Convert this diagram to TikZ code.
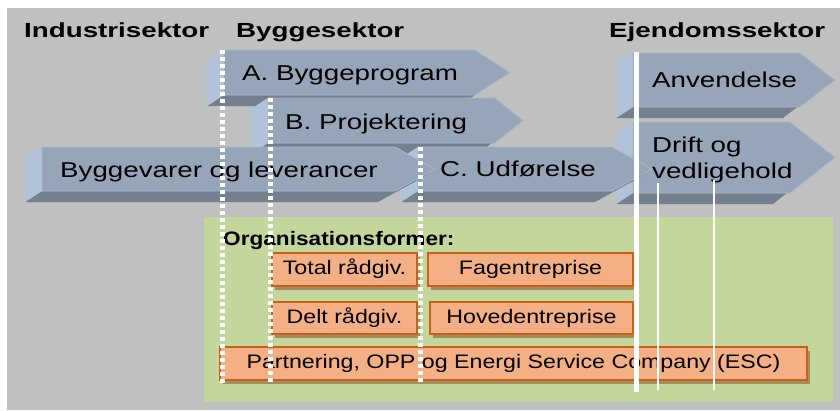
\documentclass[tikz,border=0pt]{standalone}
\usepackage{fontspec}
\setmainfont{Liberation Sans}
\usepackage{graphicx}
\usetikzlibrary{shadows}
\definecolor{bggrey}{HTML}{C0C0C0}
\definecolor{orggreen}{HTML}{C3D69B}
\definecolor{faceblue}{HTML}{97A5B9}
\definecolor{faceedge}{HTML}{A9B7CB}
\definecolor{bevelblue}{HTML}{B2C2D9}
\definecolor{bandgrey}{HTML}{75808E}
\definecolor{boxfill}{HTML}{F4AF84}
\definecolor{boxedge}{HTML}{C8601A}
\definecolor{boxshadow}{HTML}{A58C5E}
\newcommand{\sx}[2]{\scalebox{#1}[1]{#2}}
\newcommand{\blockarrow}[5]{% left, top, bottom, slant, tip
  \pgfmathsetmacro{\bam}{(#2+#3)/2}
  \fill[bandgrey] (#1,#3) -- (#4,#3) -- (#5,\bam) -- ({#5-17},{\bam+11}) -- ({#4-17},{#3+11}) -- ({#1-17},{#3+11}) -- cycle;
  \fill[bevelblue] (#1,#2) -- (#1,#3) -- ({#1-17},{#3+11}) -- ({#1-17},{#2+11}) -- cycle;
  \filldraw[fill=faceblue, draw=faceedge, line width=0.8pt] (#1,#2) -- (#4,#2) -- (#5,\bam) -- (#4,#3) -- (#1,#3) -- cycle;
}
\begin{document}
\begin{tikzpicture}[x=1pt,y=-1pt,
  header/.style={anchor=base west, inner sep=0pt, font=\bfseries\fontsize{20.4}{24}\selectfont},
  arrtxt/.style={anchor=base west, inner sep=0pt, font=\fontsize{21.5}{25}\selectfont},
  orgtitle/.style={anchor=base west, inner sep=0pt, font=\bfseries\fontsize{19.5}{23}\selectfont},
  obox/.style={draw=boxedge, fill=boxfill, line width=1.4pt, inner sep=0pt,
    text height=14pt, text depth=4pt, font=\fontsize{19.5}{23}\selectfont,
    drop shadow={opacity=1, fill=boxshadow, shadow xshift=3pt, shadow yshift=-4pt}},
  dotline/.style={white, line width=5pt, dash pattern=on 4pt off 3pt},
  solidline/.style={white, line width=5pt},
  thinline/.style={white, line width=2pt}]
\useasboundingbox (0,0) rectangle (840,410);
\fill[bggrey] (7,8) rectangle (840,410);
\fill[orggreen] (204,217) rectangle (833,402);

% headers
\node[header] (hind) at (24,37.3) {\sx{1.36}{Industrisektor}};
\node[header] (hbyg) at (236,37.3) {\sx{1.36}{Byggesektor}};
\node[header] (hejd) at (609,37.3) {\sx{1.36}{Ejendomssektor}};

% block arrows
\blockarrow{224}{50}{95}{475}{510}
\blockarrow{268}{98}{143}{495}{523}
\blockarrow{633}{53}{107}{800}{835}
\blockarrow{633}{122}{193}{790}{835}
\blockarrow{418}{147}{191}{612}{652}
\blockarrow{42}{147}{191}{395}{435}

% arrow texts
\node[arrtxt] (ta) at (242,80) {\sx{1.29}{A. Byggeprogram}};
\node[arrtxt] (tb) at (285,129) {\sx{1.29}{B. Projektering}};
\node[arrtxt] (tbv) at (60,177) {\sx{1.29}{Byggevarer og leverancer}};
\node[arrtxt] (tc) at (440,176) {\sx{1.29}{C. Udførelse}};
\node[arrtxt] (tanv) at (652,87) {\sx{1.29}{Anvendelse}};
\node[arrtxt] (tdr1) at (652,152) {\sx{1.29}{Drift og}};
\node[arrtxt] (tdr2) at (652,178) {\sx{1.29}{vedligehold}};

% organisation forms
\node[orgtitle] (org) at (223,245) {\sx{1.16}{Organisationsformer:}};
\node[obox, minimum width=145pt, minimum height=33pt] (total) at (344.5,269.5) {\sx{1.19}{Total rådgiv.}};
\node[obox, minimum width=205pt, minimum height=33pt] (fag) at (530.5,269.5) {\sx{1.19}{Fagentreprise}};
\node[obox, minimum width=145pt, minimum height=32pt] (delt) at (344.5,318) {\sx{1.19}{Delt rådgiv.}};
\node[obox, minimum width=203pt, minimum height=32pt] (hoved) at (531.5,318) {\sx{1.19}{Hovedentreprise}};
\node[obox, minimum width=587pt, minimum height=33pt] (part) at (513.5,363.5) {\sx{1.19}{Partnering, OPP og Energi Service Company (ESC)}};

% white lines
\coordinate (d1t) at (222,50);  \coordinate (d1b) at (222,385);
\coordinate (d2t) at (270,98);  \coordinate (d2b) at (270,385);
\coordinate (d3t) at (420,147); \coordinate (d3b) at (420,383);
\coordinate (s1t) at (636,52);  \coordinate (s1b) at (636,392);
\coordinate (t1t) at (658,183); \coordinate (t1b) at (658,390);
\coordinate (t2t) at (714,180); \coordinate (t2b) at (714,390);
\draw[dotline] (d1t) -- (d1b);
\draw[dotline] (d2t) -- (d2b);
\draw[dotline] (d3t) -- (d3b);
\draw[solidline] (s1t) -- (s1b);
\draw[thinline] (t1t) -- (t1b);
\draw[thinline] (t2t) -- (t2b);
\end{tikzpicture}
\end{document}
